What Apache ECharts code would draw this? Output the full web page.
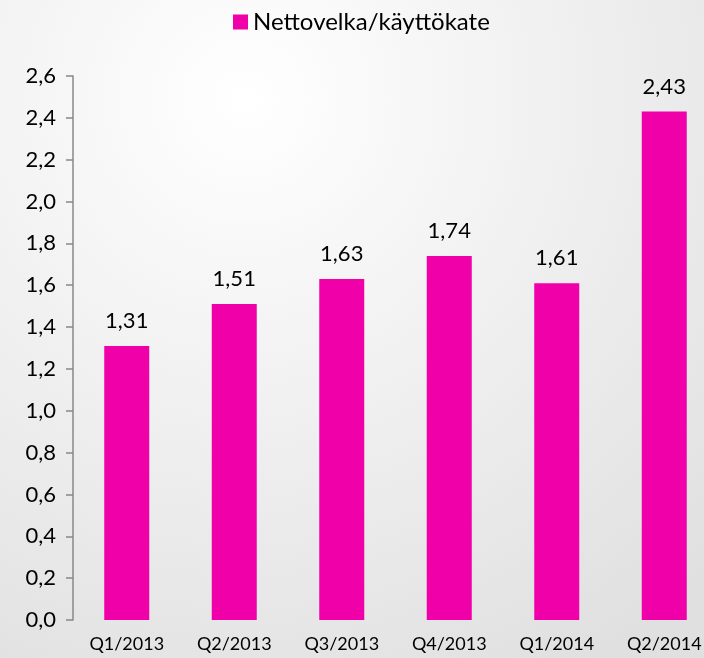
<!DOCTYPE html>
<html>
<head>
<meta charset="utf-8">
<script src="https://cdn.jsdelivr.net/npm/echarts@6/dist/echarts.min.js"></script>
<style>
  html, body { margin: 0; padding: 0; }
  #chart { width: 704px; height: 658px; }
</style>
</head>
<body>
<div id="chart"></div>
<script>
var categories = ["Q1/2013", "Q2/2013", "Q3/2013", "Q4/2013", "Q1/2014", "Q2/2014"]
var seriesName = "Nettovelka/käyttökate"
var values = [1.31, 1.51, 1.63, 1.74, 1.61, 2.43]

var font = "Lato, 'Open Sans', sans-serif"
var pink = "#f000a8"

function fi(v, digits) {
  return v.toFixed(digits).replace(".", ",")
}

var chart = echarts.init(document.getElementById("chart"))
chart.setOption({
  backgroundColor: {
    type: "radial", x: 0.35, y: 0.15, r: 1.0,
    colorStops: [
      { offset: 0, color: "#ffffff" },
      { offset: 1, color: "#e0e0e0" }
    ]
  },
  animation: false,
  legend: {
    top: 5,
    left: 228,
    itemWidth: 15,
    itemHeight: 15,
    itemGap: 5,
    textStyle: { fontFamily: font, fontSize: 24, color: "#000" },
    data: [{ name: seriesName, icon: "rect" }]
  },
  // the last category runs past the right edge, as in the original
  grid: { left: 73, width: 645, top: 76, bottom: 38, outerBoundsMode: "none", containLabel: false },
  xAxis: {
    type: "category",
    data: categories,
    axisLine: { show: false },
    axisTick: { show: false },
    axisLabel: { fontFamily: font, fontSize: 18, color: "#000", margin: 15, interval: 0 }
  },
  yAxis: {
    type: "value",
    min: 0,
    max: 2.6,
    interval: 0.2,
    splitLine: { show: false },
    axisLine: { show: true, lineStyle: { color: "#888", width: 1.5 } },
    axisTick: { show: true, length: 7, lineStyle: { color: "#888", width: 1.5 } },
    axisLabel: {
      fontFamily: font, fontSize: 22, color: "#000", margin: 17,
      formatter: function (v) { return fi(v, 1) }
    }
  },
  series: [{
    name: seriesName,
    type: "bar",
    data: values,
    barWidth: 45,
    itemStyle: { color: pink },
    label: {
      show: true,
      position: "top",
      distance: 14,
      fontFamily: font,
      fontSize: 22,
      color: "#000",
      formatter: function (p) { return fi(p.value, 2) }
    }
  }]
})
</script>
</body>
</html>
